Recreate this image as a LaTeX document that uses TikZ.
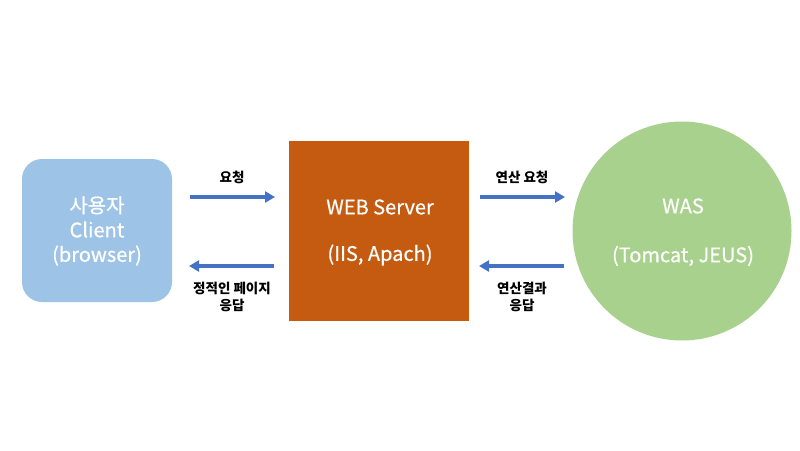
\documentclass[tikz,border=0pt]{standalone}
\usepackage{fontspec}
\setmainfont{Noto Sans CJK KR}
\newfontfamily\medfont[FakeBold=0.6]{Noto Sans CJK KR}
\usetikzlibrary{arrows.meta}
\definecolor{clientc}{HTML}{9DC3E6}
\definecolor{webc}{HTML}{C55A11}
\definecolor{wasc}{HTML}{A9D18E}
\definecolor{arrc}{HTML}{4472C4}
\tikzset{
  big/.style={text=white,font=\medfont\fontsize{20}{24.5}\selectfont,align=center},
  lbl/.style={text=black,font=\bfseries\fontsize{13.5}{17}\selectfont,align=center},
  conn/.style={draw=arrc,line width=3.2pt,-{Triangle[length=10pt,width=11pt]}}
}
\begin{document}
\begin{tikzpicture}[x=1pt,y=-1pt]
\useasboundingbox (0,0) rectangle (800,450);
\fill[white] (0,0) rectangle (800,450);
\fill[clientc,rounded corners=20pt] (22,159) rectangle (172,302);
\fill[webc] (289,141) rectangle (469,321);
\fill[wasc] (682,231) circle (109.5);
\node[big] (client) at (97,231) {사용자\\Client\\(browser)};
\node[big] (web1) at (380,207) {WEB Server};
\node[big] (web2) at (380,255) {(IIS, Apach)};
\node[big] (was1) at (683,206) {WAS};
\node[big] (was2) at (683,256) {(Tomcat, JEUS)};
\coordinate (a1s) at (190,197); \coordinate (a1e) at (275,197);
\coordinate (a2s) at (274,266); \coordinate (a2e) at (189,266);
\coordinate (a3s) at (480,197); \coordinate (a3e) at (565,197);
\coordinate (a4s) at (564,266); \coordinate (a4e) at (479,266);
\draw[conn] (a1s) -- (a1e);
\draw[conn] (a2s) -- (a2e);
\draw[conn] (a3s) -- (a3e);
\draw[conn] (a4s) -- (a4e);
\node[lbl] (l1) at (232,177) {요청};
\node[lbl] (l2) at (232,297) {정적인 페이지\\응답};
\node[lbl] (l3) at (522,177) {연산 요청};
\node[lbl] (l4) at (522,297) {연산결과\\응답};
\end{tikzpicture}
\end{document}
